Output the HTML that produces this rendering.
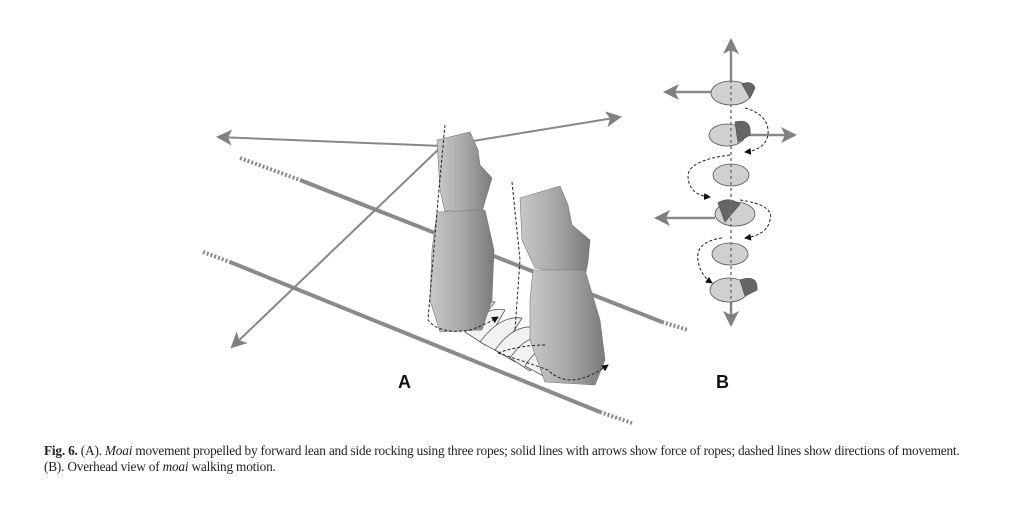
<!DOCTYPE html>
<html><head><meta charset="utf-8"><style>
html,body{margin:0;padding:0;background:#fff;}
body{width:1024px;height:527px;position:relative;overflow:hidden;font-family:"Liberation Sans",sans-serif;}
.cap{position:absolute;left:44px;top:443px;font-family:"Liberation Serif",serif;font-size:13.3px;line-height:16px;color:#222;letter-spacing:-0.2px;white-space:nowrap;}
</style></head><body>
<svg width="1024" height="527" style="position:absolute;left:0;top:0">
<defs>
<marker id="ab" markerWidth="16" markerHeight="16" refX="14" refY="8" orient="auto" markerUnits="userSpaceOnUse"><path d="M0,0 L16,8 L0,16 L4,8z" fill="#808080"/></marker>
<marker id="sk" markerWidth="7" markerHeight="7" refX="6" refY="3.5" orient="auto" markerUnits="userSpaceOnUse"><path d="M0,0 L7,3.5 L0,7z" fill="#111"/></marker>
<linearGradient id="g" x1="0" x2="1"><stop offset="0" stop-color="#c8c8c8"/><stop offset=".5" stop-color="#a8a8a8"/><stop offset="1" stop-color="#7a7a7a"/></linearGradient>
</defs>
<g stroke="#8a8a8a" stroke-width="4" fill="none">
<line x1="240" y1="158" x2="300" y2="180" stroke-dasharray="2,2"/>
<line x1="300" y1="180" x2="662" y2="322"/>
<line x1="662" y1="322" x2="688" y2="330" stroke-dasharray="2,2"/>
<line x1="203" y1="252" x2="230" y2="262" stroke-dasharray="2,2"/>
<line x1="230" y1="262" x2="600" y2="412"/>
<line x1="600" y1="412" x2="632" y2="423" stroke-dasharray="2,2"/>
</g>
<g stroke="#888" stroke-width="2" fill="none">
<line x1="442" y1="146" x2="218" y2="137" marker-end="url(#ab)"/>
<line x1="442" y1="146" x2="620" y2="117" marker-end="url(#ab)"/>
<line x1="442" y1="146" x2="232" y2="347" marker-end="url(#ab)"/>
</g>
<g fill="#f2f2f2" stroke="#555" stroke-width="0.8">
<path d="M450,322 Q470,300 495,302 L470,333z"/>
<path d="M465,332 Q485,305 505,310 L485,345z"/>
<path d="M480,342 Q500,315 522,318 L500,353z"/>
<path d="M495,350 Q515,322 538,328 L515,362z"/>
<path d="M510,358 Q528,332 548,338 L530,371z"/>
<path d="M525,366 Q538,345 552,348 L545,377z"/>
</g>
<g fill="url(#g)" stroke="#777" stroke-width="0.6">
<path d="M437,140 L470,132 L478,150 L480,165 L492,178 L486,198 L482,212 L458,214 L450,210 L445,212 L440,190z"/>
<path d="M437,212 L485,210 L494,250 L492,300 L482,330 L440,332 L430,300 L432,250z"/>
</g>
<g fill="url(#g)" stroke="#777" stroke-width="0.6">
<path d="M520,198 L560,186 L568,205 L572,225 L590,240 L588,262 L586,272 L560,272 L535,268 L522,240z"/>
<path d="M533,270 L585,270 L600,320 L605,360 L595,385 L545,382 L530,340 L530,300z"/>
</g>
<g stroke="#222" stroke-width="1" fill="none" stroke-dasharray="3,2">
<path d="M445,125 L438,200 L428,320 Q440,335 470,330 Q485,325 498,317" marker-end="url(#sk)"/>
<path d="M512,182 L520,260 L515,330"/>
<path d="M498,353 Q520,345 545,345"/>
<path d="M498,353 Q520,360 548,370 Q570,392 608,365" marker-end="url(#sk)"/>
</g>
<text x="398" y="388" font-family="Liberation Sans" font-weight="bold" font-size="18" fill="#111">A</text>
<g stroke="#888" stroke-width="2.5" fill="none">
<line x1="731" y1="90" x2="731" y2="40" marker-end="url(#ab)"/>
<line x1="712" y1="92" x2="665" y2="92" marker-end="url(#ab)"/>
<line x1="745" y1="135" x2="795" y2="135" marker-end="url(#ab)"/>
<line x1="715" y1="218" x2="656" y2="218" marker-end="url(#ab)"/>
<line x1="731" y1="300" x2="731" y2="325" marker-end="url(#ab)"/>
</g>
<g fill="#d0d0d0" stroke="#555" stroke-width="0.8">
<ellipse cx="731" cy="93" rx="20" ry="12"/>
<path d="M742,84 Q752,80 755,88 L750,98z" fill="#666"/>
<ellipse cx="727" cy="135" rx="18" ry="11"/>
<path d="M735,122 Q752,118 750,135 L738,142z" fill="#666"/>
<ellipse cx="731" cy="175" rx="18" ry="11"/>
<ellipse cx="735" cy="214" rx="20" ry="12"/>
<path d="M718,203 Q728,196 740,204 L725,222z" fill="#666"/>
<ellipse cx="730" cy="254" rx="18" ry="11"/>
<ellipse cx="729" cy="290" rx="19" ry="12"/>
<path d="M740,280 Q758,274 757,290 L745,296z" fill="#666"/>
</g>
<line x1="731" y1="80" x2="731" y2="320" stroke="#777" stroke-width="1.5" stroke-dasharray="3,3"/>
<g stroke="#222" stroke-width="1" fill="none" stroke-dasharray="3,2">
<path d="M745,108 Q770,115 768,135 Q765,150 745,152" marker-end="url(#sk)"/>
<path d="M730,155 Q690,160 688,175 Q688,195 710,197" marker-end="url(#sk)"/>
<path d="M740,200 Q775,205 770,220 Q767,235 745,238" marker-end="url(#sk)"/>
<path d="M722,238 Q695,242 698,260 Q700,275 712,283" marker-end="url(#sk)"/>
</g>
<text x="716" y="388" font-family="Liberation Sans" font-weight="bold" font-size="18" fill="#111">B</text>
</svg>
<div class="cap"><b>Fig. 6.</b> (A). <i>Moai</i> movement propelled by forward lean and side rocking using three ropes; solid lines with arrows show force of ropes; dashed lines show directions of movement.<br>(B). Overhead view of <i>moai</i> walking motion.</div>
</body></html>
